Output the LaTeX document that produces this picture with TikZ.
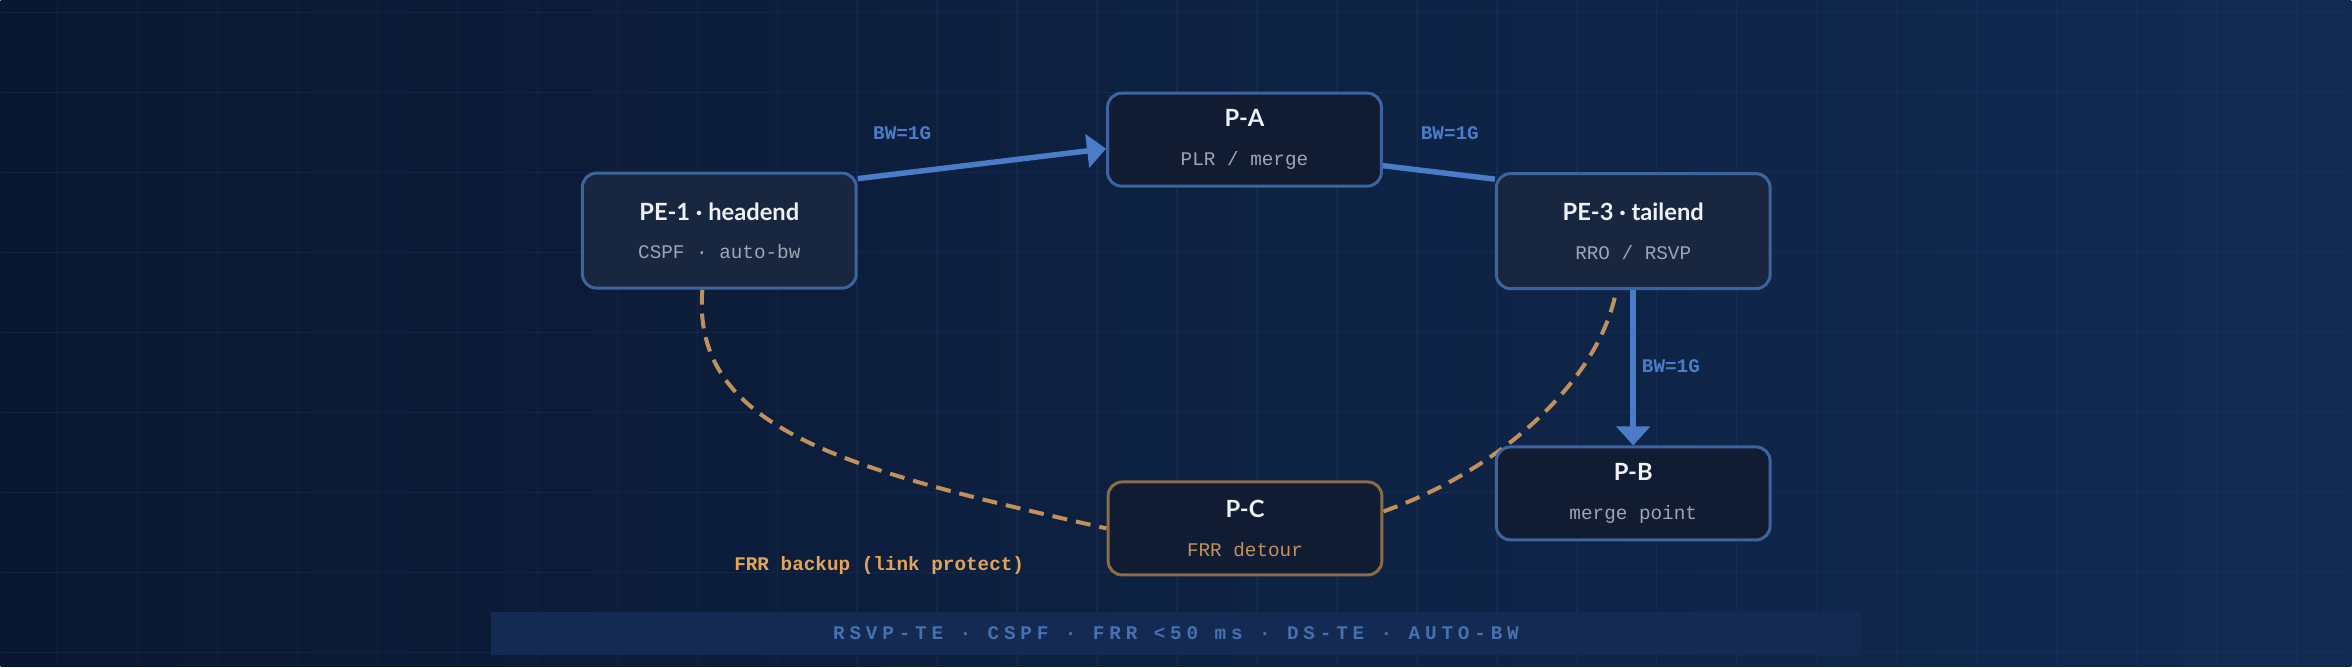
\documentclass[tikz,border=0pt]{standalone}
\usepackage{fontspec}
\setmainfont{Lato}
\setmonofont{Liberation Mono}
\usetikzlibrary{arrows.meta,calc}
\definecolor{bgleft}{HTML}{0A1730}
\definecolor{bgright}{HTML}{112B52}
\definecolor{gridc}{HTML}{2A4678}
\definecolor{boxline}{HTML}{3D649E}
\definecolor{boxdark}{HTML}{111C33}
\definecolor{boxlight}{HTML}{19263F}
\definecolor{linkblue}{HTML}{4A7CC8}
\definecolor{backupc}{HTML}{C0915A}
\definecolor{backupline}{HTML}{8A6D48}
\definecolor{titlec}{HTML}{EEF2F8}
\definecolor{subc}{HTML}{9CA6B5}
\definecolor{frrc}{HTML}{E4A458}
\definecolor{footc}{HTML}{4670B0}
\definecolor{footfill}{HTML}{142A52}
\pgfdeclarelayer{bg}
\pgfdeclarelayer{edges}
\pgfsetlayers{bg,edges,main}
\newcommand{\boxtitle}[1]{{\bfseries\fontsize{13.5}{16}\selectfont\color{titlec}#1}}
\newcommand{\boxsub}[1]{{\ttfamily\fontsize{11}{13}\selectfont#1}}
\tikzset{
  box/.style={draw=boxline, line width=0.06cm, rounded corners=0.28cm, fill=boxdark,
    minimum width=5.48cm, minimum height=1.86cm, align=center, inner sep=0pt, text=subc},
  head box/.style={box, fill=boxlight, minimum height=2.3cm},
  detour box/.style={box, draw=backupline, text=backupc},
  link/.style={draw=linkblue, line width=0.11cm},
  tip/.style={-{Triangle[length=0.38cm, width=0.66cm]}},
  backup/.style={draw=backupc, line width=0.08cm, dash pattern=on 0.3cm off 0.18cm},
  bw/.style={text=linkblue, font=\ttfamily\bfseries\fontsize{11}{13}\selectfont},
  gridline/.style={draw=gridc, line width=0.03cm, opacity=0.22},
}

\begin{document}
\begin{tikzpicture}[x=0.02cm, y=-0.02cm]

  % Background and grid
  \begin{pgfonlayer}{bg}
    \shade[left color=bgleft, right color=bgright] (0,0) rectangle (2352,666);
    \foreach \gx in {57,137,...,2352}
      \draw[gridline] (\gx,0) -- (\gx,666);
    \foreach \gy in {12,92,...,666}
      \draw[gridline] (0,\gy) -- (2352,\gy);
  \end{pgfonlayer}
  \useasboundingbox (0,0) rectangle (2352,666);

  % Routers
  \node[head box] (pe1) at (719,230) {\boxtitle{PE-1 · headend}\\[10pt]\boxsub{CSPF · auto-bw}};
  \node[box] (pa) at (1244.5,139) {\boxtitle{P-A}\\[10pt]\boxsub{PLR / merge}};
  \node[head box] (pe3) at (1633.5,230.5) {\boxtitle{PE-3 · tailend}\\[10pt]\boxsub{RRO / RSVP}};
  \node[box] (pb) at (1633.5,493) {\boxtitle{P-B}\\[10pt]\boxsub{merge point}};
  \node[detour box] (pc) at (1245,528) {\boxtitle{P-C}\\[10pt]\boxsub{FRR detour}};

  % Primary LSP
  \draw[link, tip] ($(pe1.east)+(0,-52)$) -- ($(pa.west)+(0,9)$);
  \draw[link] ($(pa.east)+(0,26)$) -- ($(pe3.west)+(0,-52)$);
  \draw[link, tip] (pe3.south) -- (pb.north);
  \node[bw] (bw1) at (902,132) {BW=1G};
  \node[bw] (bw2) at (1450,132) {BW=1G};
  \node[bw, anchor=west] (bw3) at (1636,366) {BW=1G};

  % FRR backup path
  \begin{pgfonlayer}{edges}
    \draw[backup] (pe1.-106) .. controls (690,430) and (850,470) .. (pc.west);
    \draw[backup] ($(pc.east)+(0,-17)$) .. controls (1500,470) and (1600,380) .. (pe3.-106);
  \end{pgfonlayer}
  \node[text=frrc, font=\ttfamily\bfseries\fontsize{11}{13}\selectfont] (frr) at (879,565) {FRR backup (link protect)};

  % Footer
  \node[fill=footfill, minimum width=27.44cm, minimum height=0.86cm, inner sep=0pt,
    text=footc, font=\ttfamily\bfseries\fontsize{11}{13}\selectfont\addfontfeature{LetterSpace=25}]
    (foot) at (1176,633) {RSVP-TE · CSPF · FRR <50 ms · DS-TE · AUTO-BW};

\end{tikzpicture}
\end{document}
